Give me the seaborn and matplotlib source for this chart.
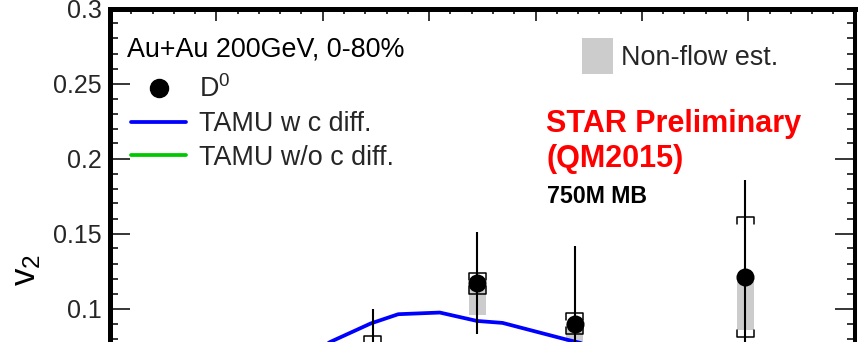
import numpy as np
import pandas as pd
import seaborn as sns
import matplotlib
matplotlib.use("Agg")
import matplotlib.pyplot as plt
from matplotlib.lines import Line2D
from matplotlib.patches import Patch
from matplotlib.ticker import MultipleLocator

# ---------------- data ----------------
d0_pt = [2.47, 3.45, 4.37, 5.97]
d0_v2 = [0.066, 0.117, 0.090, 0.121]
d0_stat = [0.034, 0.034, 0.052, 0.065]
d0_sys = [0.016, 0.007, 0.007, 0.040]
d0_nonflow = [0.020, 0.0215, 0.020, 0.0355]

tamu_c_pt = [1.80, 2.07, 2.45, 2.71, 3.10, 3.45, 3.69, 4.29, 4.60]
tamu_c_v2 = [0.066, 0.0777, 0.0900, 0.0962, 0.0973, 0.0917, 0.0904, 0.0793, 0.074]

tamu_noc_pt = [1.0, 2.0, 3.0, 4.0, 5.0, 6.0]
tamu_noc_v2 = [0.030, 0.046, 0.056, 0.060, 0.061, 0.060]

y_ticks = [0.1, 0.15, 0.2, 0.25, 0.3]
y_ticklabels = ["0.1", "0.15", "0.2", "0.25", "0.3"]

# ---------------- style ----------------
sns.set_theme(style="ticks")
plt.rcParams["font.family"] = ["Liberation Sans", "DejaVu Sans"]
plt.rcParams["mathtext.fontset"] = "custom"
plt.rcParams["mathtext.rm"] = "Liberation Sans"
plt.rcParams["mathtext.it"] = "Liberation Sans"
plt.rcParams["mathtext.bf"] = "Liberation Sans:bold"

W, H = 865, 342
fig = plt.figure(figsize=(W / 100, H / 100), dpi=100)
x0, x1, ytop = 110, 854.7, 8.5
ax = fig.add_axes([x0 / W, 0, (x1 - x0) / W, (H - ytop) / H])
ax.set_facecolor("white")

ax.set_xlim(0, 7)
ax.set_ylim(0.3 - (H - ytop) / 1500, 0.3)

# non-flow grey boxes
nf_df = pd.DataFrame({"pt": d0_pt, "v2": d0_v2, "nf": d0_nonflow})
ax.bar(nf_df["pt"], nf_df["nf"], bottom=nf_df["v2"] - nf_df["nf"], width=0.16,
       color="#cccccc", edgecolor="none", zorder=1)

# TAMU curves
c_df = pd.DataFrame({"pt": tamu_c_pt, "v2": tamu_c_v2})
nc_df = pd.DataFrame({"pt": tamu_noc_pt, "v2": tamu_noc_v2})
sns.lineplot(data=c_df, x="pt", y="v2", ax=ax, color="#0000ff", lw=2.7,
             sort=False, zorder=2)
sns.lineplot(data=nc_df, x="pt", y="v2", ax=ax, color="#00c800", lw=2.7,
             sort=False, zorder=2)

# stat error bars
ax.errorbar(d0_pt, d0_v2, yerr=d0_stat, fmt="none", ecolor="black",
            elinewidth=1.5, capsize=0, zorder=3)

# systematic brackets
hw, tick = 0.08, 0.0047
for p, v, s in zip(d0_pt, d0_v2, d0_sys):
    ax.plot([p - hw, p - hw, p + hw, p + hw], [v + s - tick, v + s, v + s, v + s - tick],
            color="black", lw=1.1, zorder=4)
    ax.plot([p - hw, p - hw, p + hw, p + hw], [v - s + tick, v - s, v - s, v - s + tick],
            color="black", lw=1.1, zorder=4)

# D0 points
pts_df = pd.DataFrame({"pt": d0_pt, "v2": d0_v2})
sns.scatterplot(data=pts_df, x="pt", y="v2", ax=ax, color="black", s=169,
                edgecolor="black", linewidth=0, zorder=5, legend=False)

# ---------------- axes ----------------
ax.spines["bottom"].set_visible(False)
ax.spines["left"].set_linewidth(3.6)
ax.spines["top"].set_linewidth(3.6)
ax.spines["right"].set_linewidth(2.9)
for s in ax.spines.values():
    s.set_color("black")

ax.xaxis.set_major_locator(MultipleLocator(1))
ax.xaxis.set_minor_locator(MultipleLocator(0.2))
ax.set_yticks(y_ticks)
ax.set_yticklabels(y_ticklabels)
ax.yaxis.set_minor_locator(MultipleLocator(0.01))

ax.tick_params(axis="x", which="both", direction="in", top=True, bottom=False,
               labeltop=False, labelbottom=False, color="black", width=1.1)
ax.tick_params(axis="x", which="major", length=8.6)
ax.tick_params(axis="x", which="minor", length=3.6)
ax.tick_params(axis="y", which="both", direction="in", left=True, right=True,
               color="black", width=1.1, labelsize=18, pad=6)
ax.tick_params(axis="y", which="major", length=14.4)
ax.tick_params(axis="y", which="minor", length=5.8)
ax.set_xlabel("")
ax.set_ylabel(r"$\mathregular{v_2}$", fontsize=25, color="black")
ax.yaxis.set_label_coords(-0.09, 0.216)

# ---------------- legends ----------------
fig.text(127.3 / W, 1 - 56.7 / H, "Au+Au 200GeV, 0-80%", fontsize=19.4,
         color="black", va="baseline", ha="left")
h_d0 = Line2D([], [], marker="o", ls="none", color="black", markersize=13)
h_c = Line2D([], [], color="#0000ff", lw=2.7)
h_nc = Line2D([], [], color="#00c800", lw=2.7)
leg1 = ax.legend(handles=[h_d0, h_c, h_nc],
                 labels=[r"D$^{0}$", "TAMU w c diff.", "TAMU w/o c diff."],
                 loc="upper left",
                 bbox_to_anchor=(130.7 / W, 1 - 75.5 / H), bbox_transform=fig.transFigure,
                 frameon=False, fontsize=19.4,
                 handlelength=2.07, handletextpad=0.47, labelspacing=0.29,
                 borderpad=0, borderaxespad=0)
ax.add_artist(leg1)
h_nf = Patch(facecolor="#cccccc", edgecolor="none")
ax.legend(handles=[h_nf], labels=["Non-flow est."], loc="upper left",
          bbox_to_anchor=(581.7 / W, 1 - 38.3 / H), bbox_transform=fig.transFigure,
          frameon=False, fontsize=19.4, handlelength=1.15, handleheight=1.67,
          handletextpad=0.31, borderpad=0, borderaxespad=0)

# ---------------- text ----------------
fig.text(546 / W, 1 - 131.7 / H, "STAR Preliminary", color="#ff0000",
         fontsize=22, fontweight="bold", va="baseline", ha="left")
fig.text(546 / W, 1 - 166.5 / H, "(QM2015)", color="#ff0000",
         fontsize=22, fontweight="bold", va="baseline", ha="left")
fig.text(546.7 / W, 1 - 203.3 / H, "750M MB", color="black",
         fontsize=16.7, fontweight="bold", va="baseline", ha="left")

fig.savefig("out.png", dpi=100, facecolor="white")
